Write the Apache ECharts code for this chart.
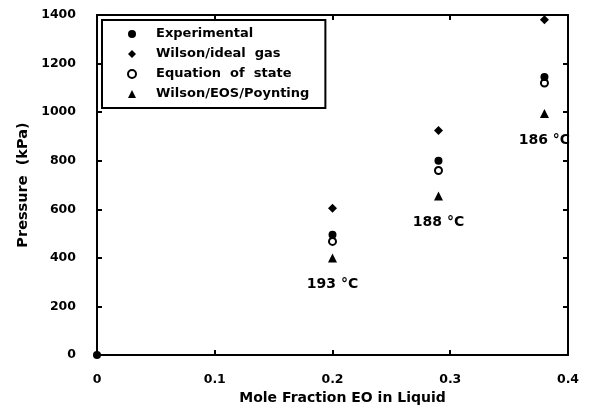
<!DOCTYPE html>
<html>
<head>
<meta charset="utf-8">
<script src="https://cdn.jsdelivr.net/npm/echarts@6/dist/echarts.min.js"></script>
<style>
  html, body { margin: 0; padding: 0; background: #fff; }
  #chart { width: 598px; height: 410px; }
</style>
</head>
<body>
<div id="chart"></div>
<script>
// Mole fraction of EO in the liquid at each isotherm
const moleFraction = [0.2, 0.29, 0.38];
const temperatures = ['193 °C', '188 °C', '186 °C'];

// Pressures in kPa
const experimental = [495, 800, 1145];
const wilsonIdealGas = [605, 925, 1380];
const equationOfState = [468, 760, 1120];
const wilsonEOSPoynting = [400, 655, 995];

// Pure-solvent point at the origin
const originPoint = [0, 0];

const xTicks = [0, 0.1, 0.2, 0.3, 0.4];
const yTicks = [0, 200, 400, 600, 800, 1000, 1200, 1400];

const FONT = 'DejaVu Sans';
const pairs = arr => moleFraction.map((x, i) => [x, arr[i]]);

const chart = echarts.init(document.getElementById('chart'));

const axisBase = {
  axisLine: { show: true, onZero: false, lineStyle: { color: '#000', width: 2 } },
  axisTick: { show: true, inside: true, length: 5, lineStyle: { color: '#000', width: 2 } },
  splitLine: { show: false }
};

chart.setOption({
  animation: false,
  backgroundColor: '#fff',
  grid: { left: 97, right: 30, top: 15, bottom: 49, containLabel: false },
  legend: {
    orient: 'vertical',
    left: 102,
    top: 20,
    padding: [7, 16, 7, 25],
    itemGap: 6,
    itemWidth: 8,
    itemHeight: 8,
    borderColor: '#000',
    borderWidth: 2,
    backgroundColor: '#fff',
    textStyle: {
      fontFamily: FONT, fontWeight: 'bold', fontSize: 13, lineHeight: 14,
      color: '#000', padding: [0, 0, 0, 15]
    },
    data: ['Experimental', 'Wilson/ideal  gas', 'Equation  of  state', 'Wilson/EOS/Poynting']
  },
  xAxis: [
    Object.assign({}, axisBase, {
      type: 'value', min: 0, max: 0.4, interval: 0.1, position: 'bottom',
      axisLabel: {
        color: '#000', fontFamily: FONT, fontWeight: 'bold', fontSize: 12.5, margin: 18,
        formatter: v => xTicks.includes(+v.toFixed(2)) ? String(+v.toFixed(2)) : ''
      },
      name: 'Mole Fraction EO in Liquid',
      nameLocation: 'middle',
      nameGap: 30,
      nameTextStyle: {
        color: '#000', fontFamily: FONT, fontWeight: 'bold', fontSize: 14,
        padding: [0, 0, 0, 20]
      }
    }),
    Object.assign({}, axisBase, {
      type: 'value', min: 0, max: 0.4, interval: 0.1, position: 'top',
      axisLabel: { show: false }
    })
  ],
  yAxis: [
    Object.assign({}, axisBase, {
      type: 'value', min: 0, max: 1400, interval: 200, position: 'left',
      axisLabel: {
        color: '#000', fontFamily: FONT, fontWeight: 'bold', fontSize: 12.5, margin: 21,
        formatter: v => yTicks.includes(v) ? String(v) : ''
      },
      name: 'Pressure  (kPa)',
      nameLocation: 'middle',
      nameGap: 64,
      nameRotate: 90,
      nameTextStyle: { color: '#000', fontFamily: FONT, fontWeight: 'bold', fontSize: 14.5 }
    }),
    Object.assign({}, axisBase, {
      type: 'value', min: 0, max: 1400, interval: 200, position: 'right',
      axisLabel: { show: false }
    })
  ],
  series: [
    {
      name: 'Experimental',
      type: 'scatter',
      symbol: 'circle',
      symbolSize: 8,
      itemStyle: { color: '#000', opacity: 1 },
      data: [originPoint].concat(pairs(experimental)),
      z: 3
    },
    {
      name: 'Wilson/ideal  gas',
      type: 'scatter',
      symbol: 'diamond',
      symbolSize: 9,
      itemStyle: { color: '#000', opacity: 1 },
      data: pairs(wilsonIdealGas)
    },
    {
      name: 'Equation  of  state',
      type: 'scatter',
      symbol: 'circle',
      symbolSize: 7,
      itemStyle: { color: '#fff', borderColor: '#000', borderWidth: 2, opacity: 1 },
      data: pairs(equationOfState)
    },
    {
      name: 'Wilson/EOS/Poynting',
      type: 'scatter',
      symbol: 'triangle',
      symbolSize: 9,
      itemStyle: { color: '#000', opacity: 1 },
      data: pairs(wilsonEOSPoynting),
      label: {
        show: true,
        position: 'bottom',
        distance: 15,
        color: '#000',
        fontFamily: FONT,
        fontWeight: 'bold',
        fontSize: 14,
        formatter: p => temperatures[p.dataIndex]
      }
    }
  ]
});
</script>
</body>
</html>
